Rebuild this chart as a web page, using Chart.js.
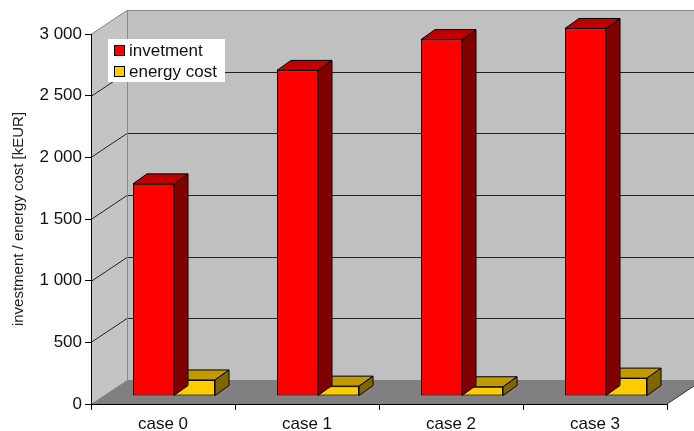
<!DOCTYPE html>
<html>
<head>
<meta charset="utf-8">
<script src="https://cdn.jsdelivr.net/npm/chart.js@4.4.0/dist/chart.umd.min.js"></script>
<style>
  body { margin: 0; background: #fff; }
  canvas { display: block; }
</style>
</head>
<body>
<canvas id="costChart" width="694" height="431"></canvas>
<script>
const cases = ["case 0", "case 1", "case 2", "case 3"];
const investment = [1720, 2640, 2890, 2980];
const energyCost = [130, 80, 75, 145];
const yTicks = [0, 500, 1000, 1500, 2000, 2500, 3000];

const FONT = "'Liberation Sans', Arial, sans-serif";
// depth of the 3d box and of each bar
const WALL_DX = 36, WALL_DY = -24;
const BAR_SHIFT_X = 11, BAR_SHIFT_Y = -8;
const BAR_DX = 14, BAR_DY = -10;

const fmt = (v) => String(v).replace(/\B(?=(\d{3})+(?!\d))/g, " ");

const poly = (ctx, pts, fill, stroke) => {
    ctx.beginPath();
    ctx.moveTo(pts[0][0], pts[0][1]);
    for (let i = 1; i < pts.length; i++) ctx.lineTo(pts[i][0], pts[i][1]);
    ctx.closePath();
    if (fill) { ctx.fillStyle = fill; ctx.fill(); }
    if (stroke) { ctx.strokeStyle = stroke; ctx.lineWidth = 1; ctx.stroke(); }
};

const box3d = {
    id: "box3d",
    beforeDraw(chart) {
        const { ctx, chartArea: a, scales } = chart;
        const y = scales.y;
        ctx.save();
        ctx.fillStyle = "#fff";
        ctx.fillRect(0, 0, chart.width, chart.height);

        const bl = a.left + WALL_DX, bt = a.top + WALL_DY;
        const br = a.right + WALL_DX, bb = a.bottom + WALL_DY;
        // back wall
        poly(ctx, [[bl, bt], [br, bt], [br, bb], [bl, bb]], "#c0c0c0", null);
        // side wall
        poly(ctx, [[a.left, a.top], [bl, bt], [bl, bb], [a.left, a.bottom]], "#c4c4c4", null);
        // floor
        poly(ctx, [[a.left, a.bottom], [bl, bb], [br, bb], [a.right, a.bottom]], "#808080", null);

        // grid lines on back and side wall
        ctx.lineWidth = 1;
        yTicks.forEach((v) => {
            const py = Math.round(y.getPixelForValue(v)) + 0.5;
            if (v === 0) return;
            ctx.strokeStyle = v === 3000 ? "#8a8a8a" : "#222";
            ctx.beginPath();
            ctx.moveTo(a.left, py);
            ctx.lineTo(bl, py + WALL_DY);
            ctx.lineTo(br, py + WALL_DY);
            ctx.stroke();
        });
        ctx.strokeStyle = "#8a8a8a";
        ctx.beginPath();
        ctx.moveTo(bl + 0.5, bt);
        ctx.lineTo(bl + 0.5, bb);
        ctx.stroke();
        ctx.strokeStyle = "#333";
        ctx.beginPath();
        ctx.moveTo(a.right, a.bottom);
        ctx.lineTo(br, bb);
        ctx.stroke();
        ctx.restore();
    },
    beforeDatasetsDraw(chart) {
        chart.ctx.save();
        chart.ctx.translate(BAR_SHIFT_X, BAR_SHIFT_Y);
    },
    afterDatasetDraw(chart, args) {
        const ctx = chart.ctx;
        const ds = chart.data.datasets[args.index];
        args.meta.data.forEach((bar) => {
            const { x, y, base, width } = bar.getProps(["x", "y", "base", "width"], true);
            const l = x - width / 2, r = x + width / 2;
            poly(ctx, [[l, y], [l + BAR_DX, y + BAR_DY], [r + BAR_DX, y + BAR_DY], [r, y]], ds.topColor, "#000");
            poly(ctx, [[r, y], [r + BAR_DX, y + BAR_DY], [r + BAR_DX, base + BAR_DY], [r, base]], ds.sideColor, "#000");
        });
    },
    afterDatasetsDraw(chart) {
        chart.ctx.restore();
    },
    afterDraw(chart) {
        // legend box
        const ctx = chart.ctx;
        ctx.save();
        ctx.fillStyle = "#fff";
        ctx.fillRect(108, 39, 117, 43);
        ctx.font = "17px " + FONT;
        ctx.textBaseline = "middle";
        chart.data.datasets.forEach((ds, i) => {
            const cy = 51 + i * 21;
            ctx.fillStyle = ds.backgroundColor;
            ctx.fillRect(114.5, cy - 5.5, 10, 10);
            ctx.strokeStyle = "#000";
            ctx.lineWidth = 1;
            ctx.strokeRect(114.5, cy - 5.5, 10, 10);
            ctx.fillStyle = "#111";
            ctx.fillText(ds.label, 129, cy);
        });
        ctx.restore();
    },
};

new Chart(document.getElementById("costChart"), {
    type: "bar",
    data: {
        labels: cases,
        datasets: [
            {
                label: "invetment",
                data: investment,
                backgroundColor: "#ff0000",
                topColor: "#c00000",
                sideColor: "#800000",
                borderColor: "#000",
                borderWidth: 1,
                borderSkipped: false,
                clip: false,
            },
            {
                label: "energy cost",
                data: energyCost,
                backgroundColor: "#ffcc00",
                topColor: "#c09a00",
                sideColor: "#806600",
                borderColor: "#000",
                borderWidth: 1,
                borderSkipped: false,
                clip: false,
            },
        ],
    },
    options: {
        responsive: false,
        animation: false,
        devicePixelRatio: 1,
        layout: { padding: { top: 34, right: 27, left: 0, bottom: 0 } },
        datasets: { bar: { categoryPercentage: 0.57, barPercentage: 1 } },
        plugins: {
            legend: { display: false },
            tooltip: { enabled: false },
        },
        scales: {
            x: {
                afterFit: (scale) => { scale.height = 27; },
                grid: { drawOnChartArea: false, drawTicks: true, tickLength: 6, color: "#000", offset: true },
                border: { display: true, color: "#000", width: 1 },
                ticks: { color: "#111", font: { family: FONT, size: 17 }, padding: 4 },
            },
            y: {
                min: 0,
                max: 3000,
                afterFit: (scale) => { scale.width = 91; },
                afterBuildTicks: (scale) => { scale.ticks = yTicks.map((v) => ({ value: v })); },
                grid: { drawOnChartArea: false, drawTicks: true, tickLength: 6, color: "#000" },
                border: { display: true, color: "#000", width: 1 },
                ticks: { color: "#111", font: { family: FONT, size: 17 }, padding: 3, callback: (v) => fmt(v) },
                title: {
                    display: true,
                    text: "investment / energy cost [kEUR]",
                    color: "#222",
                    font: { family: FONT, size: 15 },
                    padding: { top: 10, bottom: 0 },
                },
            },
        },
    },
    plugins: [box3d],
});
</script>
</body>
</html>
